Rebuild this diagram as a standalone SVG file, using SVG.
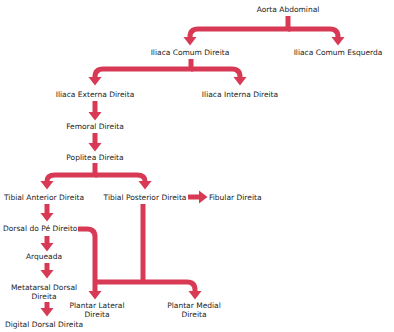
<svg xmlns="http://www.w3.org/2000/svg" width="394" height="332" viewBox="0 0 394 332">
  <style>
    .lbl { font-family: "DejaVu Sans", Verdana, sans-serif; font-size: 7.5px; fill: #222; text-anchor: middle; }
    .lbl.start { text-anchor: start; }
    .con path { fill: none; stroke: #d83a55; stroke-width: 5; }
  </style>
  <defs>
    <marker id="head" markerUnits="userSpaceOnUse" markerWidth="14" markerHeight="14" viewBox="0 -7 9 14" refX="0" refY="0" orient="auto">
      <path d="M0,-6.5 L8.5,0 L0,6.5 z" fill="#d83a55"/>
    </marker>
  </defs>
  <rect width="394" height="332" fill="#fff"/>

  <g id="connectors" class="con">
    <path d="M288,16 V29 H198 Q190,29 190,37" marker-end="url(#head)"/>
    <path d="M288,29 H330 Q338,29 338,37" marker-end="url(#head)"/>
    <path d="M191,59 V69 H103 Q95,69 95,77" marker-end="url(#head)"/>
    <path d="M191,69 H232 Q240,69 240,77" marker-end="url(#head)"/>
    <path d="M95,101 V112" marker-end="url(#head)"/>
    <path d="M95,133 V143" marker-end="url(#head)"/>
    <path d="M95,163 V175 H55 Q47,175 47,181" marker-end="url(#head)"/>
    <path d="M95,175 H137 Q145,175 145,181" marker-end="url(#head)"/>
    <path d="M188,197 H199" marker-end="url(#head)"/>
    <path d="M47,204 V213" marker-end="url(#head)"/>
    <path d="M47,236 V243" marker-end="url(#head)"/>
    <path d="M47,263 V270" marker-end="url(#head)"/>
    <path d="M47,302 V308" marker-end="url(#head)"/>
    <path d="M78,229 H87 Q95,229 95,237 V291" marker-end="url(#head)"/>
    <path d="M143,204 V282"/>
    <path d="M93,282 H187 Q195,282 195,290 V291" marker-end="url(#head)"/>
  </g>

  <g id="aorta-abdominal"><text class="lbl" x="288" y="12">Aorta Abdominal</text></g>
  <g id="iliaca-comum-direita"><text class="lbl" x="190" y="55">Iliaca Comum Direita</text></g>
  <g id="iliaca-comum-esquerda"><text class="lbl" x="338" y="55">Iliaca Comum Esquerda</text></g>
  <g id="iliaca-externa-direita"><text class="lbl" x="95" y="97">Iliaca Externa Direita</text></g>
  <g id="iliaca-interna-direita"><text class="lbl" x="240" y="97">Iliaca Interna Direita</text></g>
  <g id="femoral-direita"><text class="lbl" x="95" y="129">Femoral Direita</text></g>
  <g id="poplitea-direita"><text class="lbl" x="95" y="160">Poplitea Direita</text></g>
  <g id="tibial-anterior-direita"><text class="lbl" x="44" y="200">Tibial Anterior Direita</text></g>
  <g id="tibial-posterior-direita"><text class="lbl" x="145" y="200">Tibial Posterior Direita</text></g>
  <g id="fibular-direita"><text class="lbl start" x="209" y="200">Fibular Direita</text></g>
  <g id="dorsal-do-pe-direito"><text class="lbl start" x="3" y="231">Dorsal do Pé Direito</text></g>
  <g id="arqueada"><text class="lbl" x="44" y="259">Arqueada</text></g>
  <g id="metatarsal-dorsal-direita"><text class="lbl" x="44" y="290">Metatarsal Dorsal<tspan x="44" dy="9">Direita</tspan></text></g>
  <g id="digital-dorsal-direita"><text class="lbl" x="44" y="327">Digital Dorsal Direita</text></g>
  <g id="plantar-lateral-direita"><text class="lbl" x="97" y="308">Plantar Lateral<tspan x="97" dy="9">Direita</tspan></text></g>
  <g id="plantar-medial-direita"><text class="lbl" x="194" y="308">Plantar Medial<tspan x="194" dy="9">Direita</tspan></text></g>
</svg>
